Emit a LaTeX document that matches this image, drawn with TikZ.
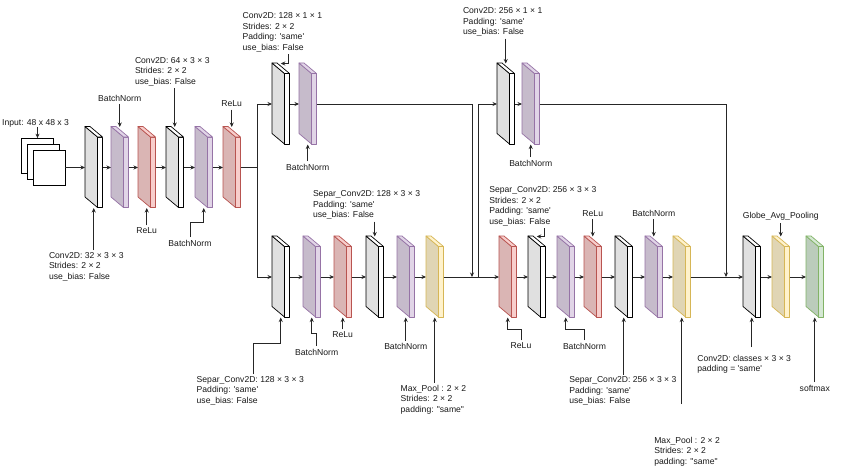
\documentclass[tikz,border=0pt]{standalone}
\usepackage{fontspec}
\setmainfont{Liberation Sans}
\usetikzlibrary{arrows.meta}
\definecolor{bnF}{HTML}{E1D5E7}\definecolor{bnS}{HTML}{9673A6}
\definecolor{reF}{HTML}{F8CECC}\definecolor{reS}{HTML}{B85450}
\definecolor{mpF}{HTML}{FFF2CC}\definecolor{mpS}{HTML}{D6B656}
\definecolor{smF}{HTML}{D5E8D4}\definecolor{smS}{HTML}{82B366}
\newcommand\squo{\textquotesingle}
\newcommand\dquo{\textquotedbl}
\tikzset{
  lbl/.style={font=\fontsize{8.6}{10.5}\selectfont, text=black!90, inner sep=2.5pt},
  mlbl/.style={font=\fontsize{8.6}{10.5}\selectfont, text=black!90, inner sep=0pt, outer sep=2pt, align=left, anchor=north west},
  wire/.style={draw=black!85, line width=0.7pt},
  arr/.style={wire, -{Stealth[length=4.5pt,width=4pt]}},
  slabbox/.style={inner sep=0pt, outer sep=0pt, minimum width=17.5pt, minimum height=81pt, anchor=west},
  sheet/.style={draw=black, fill=white, line width=0.7pt, minimum width=32pt, minimum height=35pt, inner sep=0pt}
}
\newcommand\slab[5]{%
  \node[slabbox] (#1) at (#2,#3) {};
  \begin{scope}[shift={(#2,#3)}, line width=0.7pt, line join=round]
    \filldraw[fill=#4!88!black, draw=#5] (0,-41) -- (12.5,-30.5) -- (12.5,40) -- (0,29.5) -- cycle;
    \filldraw[fill=#4, draw=#5] (12.5,-30.5) -- (17.5,-30.5) -- (17.5,40) -- (12.5,40) -- cycle;
    \filldraw[fill=#4, draw=#5] (0,-41) -- (5,-41) -- (17.5,-30.5) -- (12.5,-30.5) -- cycle;
  \end{scope}}
\begin{document}
\begin{tikzpicture}[x=1pt,y=-1pt]
\fill[white] (0,0) rectangle (850,468);
\useasboundingbox (0,0) rectangle (850,468);

% input stack
\node[sheet] (in0) at (37.5,156) {};
\node[sheet] (in1) at (43,162) {};
\node[sheet] (in2) at (49,167.5) {};
\node[lbl, anchor=base west, inner sep=0pt] (linput) at (2,125.1) {Input: 48 x 48 x 3};
\draw[arr] (linput.south -| in0.north) -- (in0.north);

% row 1
\slab{c1}{85}{167.5}{white}{black}
\slab{b1}{111}{167.5}{bnF}{bnS}
\slab{r1}{138}{167.5}{reF}{reS}
\slab{c2}{166}{167.5}{white}{black}
\slab{b2}{195}{167.5}{bnF}{bnS}
\slab{r2}{223}{167.5}{reF}{reS}
% top skip
\slab{c3}{272}{104}{white}{black}
\slab{b3}{299}{104}{bnF}{bnS}
\slab{c4}{497}{104}{white}{black}
\slab{b4}{522}{104}{bnF}{bnS}
% row 2
\slab{s1}{272}{277}{white}{black}
\slab{b5}{303}{277}{bnF}{bnS}
\slab{r5}{334}{277}{reF}{reS}
\slab{s2}{366}{277}{white}{black}
\slab{b6}{397}{277}{bnF}{bnS}
\slab{m1}{426}{277}{mpF}{mpS}
\slab{r3}{499}{277}{reF}{reS}
\slab{s3}{528}{277}{white}{black}
\slab{b7}{557}{277}{bnF}{bnS}
\slab{r4}{584}{277}{reF}{reS}
\slab{s4}{615}{277}{white}{black}
\slab{b8}{645}{277}{bnF}{bnS}
\slab{m2}{673}{277}{mpF}{mpS}
\slab{c6}{743}{277}{white}{black}
\slab{g1}{772}{277}{mpF}{mpS}
\slab{sm}{806}{277}{smF}{smS}

% main connectors
\draw[arr] (in2.east) -- (c1.west);
\draw[arr] (c1.east) -- (b1.west);
\draw[arr] (b1.east) -- (r1.west);
\draw[arr] (r1.east) -- (c2.west);
\draw[arr] (c2.east) -- (b2.west);
\draw[arr] (b2.east) -- (r2.west);
\coordinate (j1) at (257,167.5);
\draw[wire] (r2.east) -- (j1);
\draw[arr] (j1) |- (c3.west);
\draw[arr] (j1) |- (s1.west);
\draw[arr] (c3.east) -- (b3.west);
\coordinate (j2) at (472,277);
\coordinate (j3) at (478,277);
\draw[arr] (b3.east) -| (j2);
\draw[arr] (s1.east) -- (b5.west);
\draw[arr] (b5.east) -- (r5.west);
\draw[arr] (r5.east) -- (s2.west);
\draw[arr] (s2.east) -- (b6.west);
\draw[arr] (b6.east) -- (m1.west);
\draw[arr] (m1.east) -- (r3.west);
\draw[arr] (j3) |- (c4.west);
\draw[arr] (c4.east) -- (b4.west);
\coordinate (j4) at (726,277);
\draw[arr] (b4.east) -| (j4);
\draw[arr] (r3.east) -- (s3.west);
\draw[arr] (s3.east) -- (b7.west);
\draw[arr] (b7.east) -- (r4.west);
\draw[arr] (r4.east) -- (s4.west);
\draw[arr] (s4.east) -- (b8.west);
\draw[arr] (b8.east) -- (m2.west);
\draw[arr] (m2.east) -- (c6.west);
\draw[arr] (c6.east) -- (g1.west);
\draw[arr] (g1.east) -- (sm.west);

% single-line labels
\node[lbl] (lbn1) at (119.75,98) {BatchNorm};
\draw[arr] (lbn1.south) -- (b1.north);
\node[lbl] (lre1) at (146.75,231) {ReLu};
\draw[arr] (lre1.north) -- (r1.south);
\node[lbl] (lbn2) at (190,243) {BatchNorm};
\coordinate (kb2) at (203.75,222);
\draw[arr] (lbn2.north) |- (kb2) -- (b2.south);
\node[lbl] (lre2) at (231.75,104) {ReLu};
\draw[arr] (lre2.south) -- (r2.north);
\node[lbl] (lbn3) at (307.75,167) {BatchNorm};
\draw[arr] (lbn3.north) -- (b3.south);
\node[lbl] (lbn4) at (530.75,163) {BatchNorm};
\draw[arr] (lbn4.north) -- (b4.south);
\node[lbl] (lbn5) at (316.7,352) {BatchNorm};
\coordinate (kb5) at (311.75,333);
\draw[arr] (lbn5.north) |- (kb5) -- (b5.south);
\node[lbl] (lre5) at (342.75,335) {ReLu};
\draw[arr] (lre5.north) -- (r5.south);
\node[lbl] (lbn6) at (405.75,346.7) {BatchNorm};
\draw[arr] (lbn6.north) -- (b6.south);
\node[lbl] (lre3) at (521,346) {ReLu};
\coordinate (kr3) at (507.75,329);
\draw[arr] (lre3.north) |- (kr3) -- (r3.south);
\node[lbl] (lbn7) at (584.5,346) {BatchNorm};
\coordinate (kb7) at (565.75,329);
\draw[arr] (lbn7.north) |- (kb7) -- (b7.south);
\node[lbl] (lre4) at (592.75,213.3) {ReLu};
\draw[arr] (lre4.south) -- (r4.north);
\node[lbl] (lbn8) at (653.75,213.3) {BatchNorm};
\draw[arr] (lbn8.south) -- (b8.north);
\node[lbl] (lgap) at (780.75,216.7) {Globe\_Avg\_Pooling};
\draw[arr] (lgap.south) -- (g1.north);
\node[lbl] (lsm) at (814.75,388) {softmax};
\draw[arr] (lsm.north) -- (sm.south);

% multi-line labels
\node[mlbl] (lc1) at (47,250) {Conv2D: 32 × 3 × 3\\Strides: 2 × 2\\use\_bias: False};
\draw[arr] (c1.south |- lc1.north) -- (c1.south);
\node[mlbl] (lc2) at (133,55.4) {Conv2D: 64 × 3 × 3\\Strides: 2 × 2\\use\_bias: False};
\draw[arr] (c2.north |- lc2.south) -- (c2.north);
\node[mlbl] (lc3) at (240.7,10.9) {Conv2D: 128 × 1 × 1\\Strides: 2 × 2\\Padding: \squo same\squo\\use\_bias: False};
\draw[arr] (288.5,0 |- lc3.south) |- (c3.north);
\node[mlbl] (lc4) at (461,5.9) {Conv2D: 256 × 1 × 1\\Padding: \squo same\squo\\use\_bias: False};
\draw[arr] (c4.north |- lc4.south) -- (c4.north);
\node[mlbl] (ls1) at (194.7,374.4) {Separ\_Conv2D: 128 × 3 × 3\\Padding: \squo same\squo\\use\_bias: False};
\coordinate (ks1) at (280.75,343);
\draw[arr] (253.3,0 |- ls1.north) |- (ks1) -- (s1.south);
\node[mlbl] (ls2) at (311,188.9) {Separ\_Conv2D: 128 × 3 × 3\\Padding: \squo same\squo\\use\_bias: False};
\draw[arr] (s2.north |- ls2.south) -- (s2.north);
\node[mlbl] (lm1) at (398.7,382.9) {Max\_Pool : 2 × 2\\Strides: 2 × 2\\padding: \dquo same\dquo};
\draw[arr] (m1.south |- lm1.north) -- (m1.south);
\node[mlbl] (ls3) at (487.3,184.9) {Separ\_Conv2D: 256 × 3 × 3\\Strides: 2 × 2\\Padding: \squo same\squo\\use\_bias: False};
\draw[arr] (544,0 |- ls3.south) |- (s3.north);
\node[mlbl] (ls4) at (567.3,374.9) {Separ\_Conv2D: 256 × 3 × 3\\Padding: \squo same\squo\\use\_bias: False};
\draw[arr] (s4.south |- ls4.north) -- (s4.south);
\node[mlbl] (lm2) at (652.3,434.9) {Max\_Pool : 2 × 2\\Strides: 2 × 2\\padding: \dquo same\dquo};
\coordinate (km2) at (681.75,404);
\draw[arr] (km2) -- (m2.south);
\node[mlbl] (lc6) at (695.3,353.2) {Conv2D: classes × 3 × 3\\padding = \squo same\squo};
\coordinate (kc6) at (751.75,347);
\draw[arr] (kc6) -- (c6.south);
\end{tikzpicture}
\end{document}
